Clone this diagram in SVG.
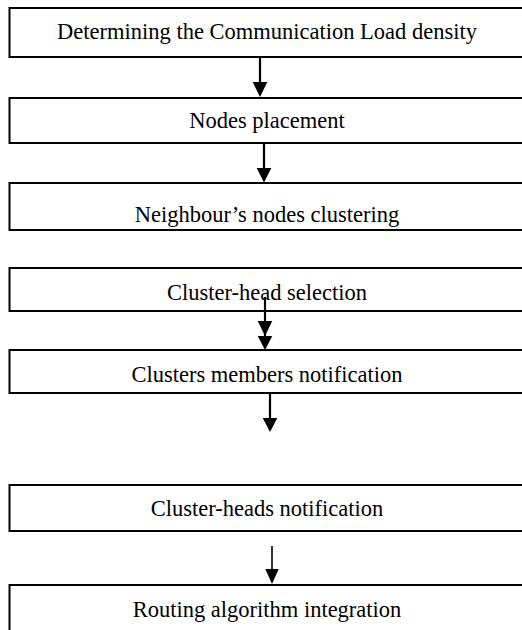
<svg xmlns="http://www.w3.org/2000/svg" width="522" height="630" viewBox="0 0 522 630">
<style>
.box{fill:#fff;stroke:#000;stroke-width:2}
.lbl{font-family:"Liberation Serif","Times New Roman",serif;font-size:22.5px;fill:#000;text-anchor:middle}
.shaft{stroke:#000;stroke-width:2.2;fill:none}
.thin{stroke:#000;stroke-width:1.6;fill:none}
.head{fill:#000;stroke:none}
</style>
<rect x="0" y="0" width="522" height="630" fill="#fff"/>
<g id="n1"><rect class="box" x="9.5" y="8" width="520" height="49"/><text class="lbl" x="267" y="38.5">Determining the Communication Load density</text></g>
<g id="n2"><rect class="box" x="9.5" y="98" width="520" height="45"/><text class="lbl" x="267" y="128">Nodes placement</text></g>
<g id="n3"><rect class="box" x="9.5" y="183" width="520" height="47"/><text class="lbl" x="267" y="222">Neighbour’s nodes clustering</text></g>
<g id="n4"><rect class="box" x="9.5" y="268" width="520" height="43"/><text class="lbl" x="267" y="300">Cluster-head selection</text></g>
<g id="n5"><rect class="box" x="9.5" y="350" width="520" height="43"/><text class="lbl" x="267" y="382">Clusters members notification</text></g>
<g id="n6"><rect class="box" x="9.5" y="485" width="520" height="46"/><text class="lbl" x="267" y="516">Cluster-heads notification</text></g>
<g id="n7"><rect class="box" x="9.5" y="585" width="520" height="60"/><text class="lbl" x="267" y="617">Routing algorithm integration</text></g>
<g id="connectors">
<line class="shaft" x1="260" y1="57" x2="260" y2="84"/>
<polygon class="head" points="252.7,82 267.3,82 260,97"/>
<line class="shaft" x1="264" y1="143" x2="264" y2="170"/>
<polygon class="head" points="256.7,168 271.3,168 264,182.5"/>
<line class="shaft" x1="265" y1="297" x2="265" y2="336"/>
<polygon class="head" points="257.7,321 272.3,321 265,336"/>
<polygon class="head" points="257.7,336 272.3,336 265,350"/>
<line class="shaft" x1="270" y1="393" x2="270" y2="420"/>
<polygon class="head" points="262.7,418 277.3,418 270,432"/>
<line class="thin" x1="272" y1="546" x2="272" y2="571"/>
<polygon class="head" points="265.3,569 278.7,569 272,584"/>
</g>
</svg>
